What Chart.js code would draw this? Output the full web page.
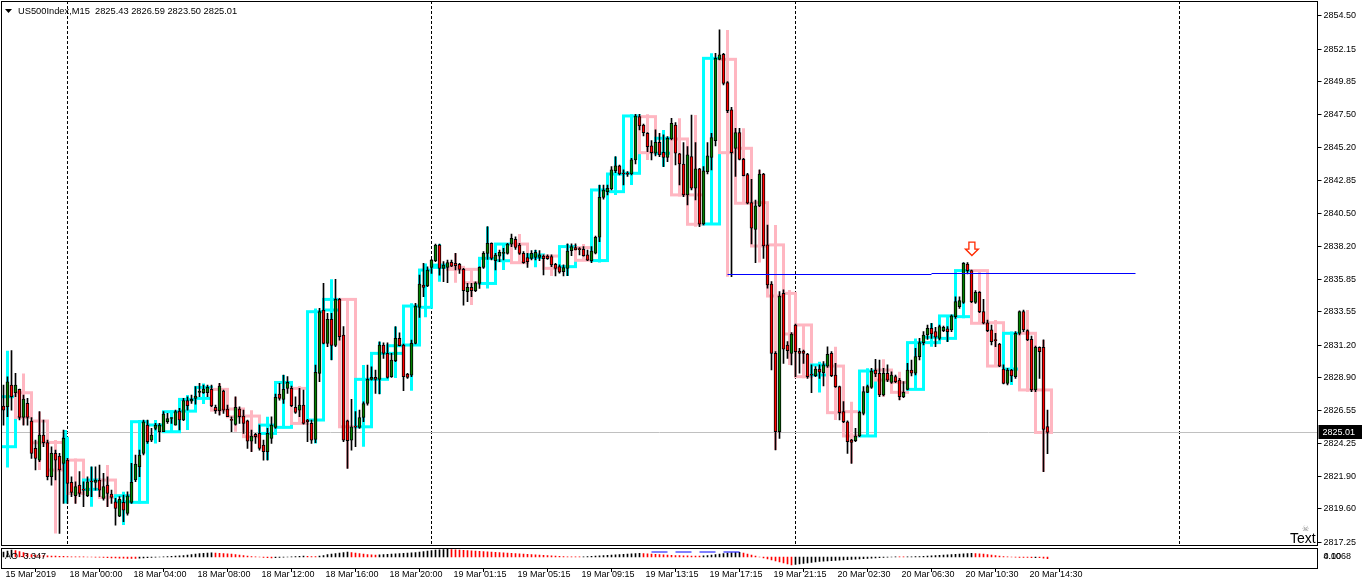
<!DOCTYPE html>
<html>
<head>
<meta charset="utf-8">
<title>US500Index,M15</title>
<script src="https://cdn.jsdelivr.net/npm/chart.js@4.4.1/dist/chart.umd.min.js"></script>
<style>
  html, body { margin: 0; padding: 0; background: #fff; }
  #wrap { position: relative; width: 1362px; height: 585px; overflow: hidden; }
  #mainChart { position: absolute; left: 0; top: 0; }
  #aoChart { position: absolute; left: 0; top: 546px; }
</style>
</head>
<body>
<div id="wrap">
  <canvas id="mainChart" width="1362" height="547"></canvas>
  <canvas id="aoChart" width="1362" height="39"></canvas>
</div>
<script>
// ---- data (M15 bars, first one is just left of the visible window) ----
const titleText = 'US500Index,M15  2825.43 2826.59 2823.50 2825.01'
const sessions = [['15 Mar', 19, 17], ['18 Mar', 0, 91], ['19 Mar', 0, 91], ['20 Mar', 0, 96], ['21 Mar', 0, 35]]

const barOpen = [
2824.00,2826.88,2826.83,2828.36,2827.82,2828.06,2826.07,2827.07,2825.82,2823.88,
2823.05,2824.82,2824.30,2821.87,2823.53,2823.34,2822.82,2823.05,2821.47,2820.53,
2821.28,2820.98,2820.53,2821.52,2821.47,2821.64,2820.34,2821.28,2820.65,2820.10,
2819.09,2820.06,2819.28,2820.06,2821.64,2822.58,2823.53,2825.53,2824.47,2825.30,
2825.06,2825.06,2825.77,2826.00,2825.53,2826.52,2825.89,2827.26,2827.23,2827.42,
2827.85,2827.82,2827.82,2828.06,2826.78,2826.55,2827.94,2826.67,2825.89,2825.58,
2826.67,2826.17,2825.84,2824.40,2824.87,2824.94,2824.12,2823.64,2824.59,2825.37,
2827.73,2827.35,2828.13,2828.13,2826.78,2826.59,2826.95,2825.89,2825.65,2824.52,
2829.19,2833.68,2831.32,2833.02,2831.17,2834.43,2831.91,2825.84,2824.47,2825.41,
2825.37,2826.07,2827.06,2828.77,2828.91,2828.77,2831.20,2830.61,2828.96,2830.09,
2831.67,2831.20,2829.14,2829.07,2831.32,2833.87,2835.45,2835.38,2836.70,2837.17,
2838.28,2836.63,2836.70,2837.05,2836.98,2836.91,2836.56,2834.97,2835.28,2835.05,
2835.56,2836.70,2837.69,2838.40,2837.17,2837.50,2837.69,2837.69,2838.35,2838.68,
2838.28,2837.69,2837.39,2837.34,2837.41,2837.41,2837.50,2837.50,2837.46,2836.92,
2836.75,2836.40,2836.63,2837.88,2838.10,2837.98,2837.98,2837.58,2837.18,2837.70,
2838.83,2841.66,2842.06,2842.25,2843.55,2843.88,2843.36,2843.31,2843.31,2844.31,
2847.37,2846.78,2846.19,2845.30,2844.78,2845.56,2844.85,2844.49,2845.79,2846.78,
2844.73,2844.02,2841.83,2844.54,2842.30,2843.67,2839.77,2843.48,2844.49,2845.67,
2851.43,2851.79,2849.78,2847.85,2845.13,2846.24,2844.35,2843.27,2841.28,2839.39,
2841.05,2843.31,2838.29,2835.52,2830.61,2825.06,2834.86,2831.20,2830.61,2832.62,
2830.78,2830.78,2830.56,2829.08,2829.03,2829.50,2829.24,2829.71,2830.61,2829.08,
2828.25,2826.48,2825.77,2824.47,2824.43,2824.76,2826.36,2827.85,2828.20,2829.43,
2829.20,2827.66,2829.20,2828.56,2828.96,2828.72,2827.54,2828.06,2829.43,2829.20,
2830.38,2831.37,2831.91,2832.38,2832.15,2831.67,2832.22,2832.34,2832.27,2833.21,
2833.92,2834.22,2836.94,2836.47,2834.22,2834.93,2833.56,2832.78,2832.27,2831.56,
2831.27,2829.50,2828.49,2829.43,2828.96,2832.03,2833.56,2832.22,2831.60,2828.02,
2831.04,2831.04,2825.43]
const barHigh = [
2827.00,2828.36,2828.95,2830.80,2829.19,2828.08,2827.66,2827.42,2826.07,2824.47,
2826.48,2825.89,2824.47,2824.00,2823.76,2823.53,2825.18,2823.17,2821.87,2821.52,
2822.23,2821.52,2821.87,2822.58,2822.58,2822.70,2822.11,2821.87,2820.93,2820.34,
2820.46,2820.57,2820.81,2822.82,2823.41,2823.76,2825.89,2825.89,2825.30,2825.65,
2825.65,2826.48,2826.36,2826.07,2826.59,2826.71,2827.42,2827.54,2827.66,2828.25,
2828.48,2828.36,2828.36,2828.36,2826.95,2828.48,2828.01,2826.95,2826.12,2827.54,
2826.83,2826.59,2825.89,2825.18,2824.94,2825.53,2824.47,2825.30,2826.12,2827.73,
2828.48,2829.07,2828.96,2828.29,2827.54,2828.13,2828.01,2825.93,2825.89,2829.78,
2833.79,2835.56,2833.44,2833.44,2835.85,2834.50,2832.50,2825.89,2827.35,2826.48,
2826.59,2827.18,2829.78,2829.66,2829.43,2831.43,2831.36,2831.36,2830.61,2832.50,
2832.07,2831.27,2829.19,2831.55,2834.15,2836.15,2836.98,2836.74,2837.26,2838.35,
2838.35,2837.10,2837.22,2837.22,2837.69,2836.98,2836.63,2835.56,2835.56,2835.68,
2836.74,2837.81,2839.58,2838.44,2837.69,2837.93,2838.04,2838.40,2839.06,2838.87,
2838.40,2837.81,2837.70,2837.88,2837.93,2837.88,2837.58,2837.58,2837.58,2836.99,
2836.87,2836.87,2838.36,2838.36,2838.36,2838.10,2838.17,2837.93,2838.17,2838.92,
2842.53,2842.53,2842.53,2843.83,2844.54,2843.95,2843.60,2843.48,2844.42,2847.54,
2847.54,2846.85,2846.24,2845.67,2846.43,2846.19,2846.08,2845.96,2847.26,2846.95,
2844.78,2845.53,2845.25,2847.49,2845.53,2843.71,2843.83,2845.53,2846.19,2851.86,
2853.51,2851.86,2849.85,2848.03,2846.55,2846.55,2844.42,2843.36,2842.94,2841.47,
2843.60,2843.36,2839.70,2835.69,2830.73,2834.98,2835.10,2831.44,2832.08,2832.69,
2830.97,2830.85,2830.61,2829.79,2829.67,2829.79,2830.02,2831.08,2830.73,2829.90,
2828.30,2827.19,2825.84,2824.52,2825.30,2826.53,2828.25,2828.37,2829.55,2830.19,
2830.14,2829.55,2829.79,2829.31,2829.08,2828.84,2828.61,2829.90,2830.14,2830.97,
2831.67,2832.15,2832.62,2832.74,2832.45,2832.62,2832.55,2832.50,2833.33,2834.62,
2834.62,2837.03,2837.03,2836.51,2835.05,2834.98,2834.44,2832.97,2832.62,2832.03,
2831.32,2829.79,2829.55,2829.48,2832.15,2833.63,2833.68,2832.27,2831.84,2831.13,
2831.08,2831.56,2826.59]
const barLow = [
2822.53,2825.53,2826.12,2826.59,2827.54,2825.89,2825.53,2825.53,2823.17,2822.35,
2822.94,2824.00,2821.64,2821.28,2821.64,2817.86,2819.98,2819.98,2820.46,2819.98,
2820.46,2819.75,2820.46,2820.46,2820.93,2820.46,2820.22,2819.75,2819.98,2818.45,
2819.04,2818.69,2819.16,2819.98,2821.52,2821.87,2823.41,2824.23,2824.35,2825.18,
2824.35,2825.06,2825.65,2825.65,2825.53,2825.18,2825.84,2826.59,2827.07,2827.02,
2827.54,2827.78,2827.54,2826.83,2826.36,2826.24,2826.36,2826.12,2825.06,2825.53,
2825.65,2824.94,2823.88,2823.64,2824.23,2823.76,2823.05,2823.05,2824.23,2825.30,
2827.30,2827.06,2827.77,2826.83,2826.36,2826.12,2825.60,2824.35,2824.23,2824.28,
2828.60,2831.27,2831.08,2830.14,2831.08,2831.55,2824.35,2822.46,2823.76,2824.00,
2825.30,2825.77,2826.95,2828.72,2827.77,2827.73,2830.25,2828.86,2828.91,2830.02,
2831.13,2827.96,2828.84,2828.96,2831.27,2833.16,2834.62,2835.33,2836.27,2837.10,
2836.15,2835.68,2835.61,2836.74,2836.51,2836.27,2834.03,2834.27,2834.62,2834.97,
2835.21,2836.63,2837.26,2837.22,2836.51,2837.10,2837.22,2837.64,2838.16,2837.97,
2837.62,2836.98,2836.70,2837.22,2837.22,2837.18,2836.16,2837.27,2836.75,2836.09,
2836.28,2836.09,2836.11,2837.53,2837.93,2837.58,2837.50,2837.18,2837.04,2837.65,
2838.52,2841.52,2841.83,2842.18,2843.41,2843.24,2842.53,2843.13,2843.24,2844.02,
2846.43,2846.00,2844.90,2844.31,2844.59,2844.54,2843.83,2844.19,2845.72,2843.95,
2842.53,2841.71,2841.12,2842.18,2841.47,2839.58,2839.70,2843.31,2843.60,2845.30,
2851.39,2849.62,2847.66,2836.04,2843.13,2844.31,2843.17,2841.19,2838.36,2837.04,
2841.00,2837.34,2835.22,2829.43,2823.77,2824.59,2829.90,2830.26,2829.79,2828.96,
2829.20,2829.90,2828.84,2827.83,2828.96,2828.84,2828.30,2829.62,2828.96,2828.20,
2825.89,2825.70,2823.53,2822.82,2824.36,2824.71,2826.25,2827.83,2828.13,2828.96,
2827.54,2827.59,2828.61,2828.49,2828.53,2827.31,2827.47,2828.02,2829.01,2829.08,
2830.14,2831.20,2831.60,2831.67,2831.08,2831.56,2832.15,2831.44,2832.15,2833.09,
2833.80,2834.15,2836.23,2834.20,2834.15,2833.49,2832.69,2832.15,2831.20,2831.08,
2829.67,2828.44,2828.37,2828.61,2828.84,2831.91,2832.15,2831.51,2827.90,2827.90,
2828.84,2822.23,2823.50]
const barClose = [
2826.88,2826.59,2828.60,2827.54,2828.36,2826.07,2827.37,2826.07,2823.53,2823.17,
2824.82,2824.28,2821.87,2823.53,2823.05,2822.35,2824.59,2821.40,2820.76,2821.17,
2820.69,2820.93,2821.52,2821.50,2821.64,2820.93,2821.17,2820.69,2820.41,2819.63,
2820.27,2819.51,2820.53,2821.47,2822.77,2823.41,2825.77,2824.35,2824.82,2825.53,
2825.53,2826.31,2826.00,2826.00,2826.48,2825.89,2827.26,2826.90,2827.35,2827.59,
2827.85,2828.08,2828.20,2826.88,2826.55,2828.29,2826.59,2826.12,2825.87,2826.78,
2826.12,2825.65,2824.40,2824.75,2824.71,2823.88,2823.64,2824.94,2825.53,2827.49,
2827.42,2828.06,2828.55,2826.90,2826.43,2826.95,2825.65,2825.77,2824.47,2829.26,
2833.56,2831.32,2833.02,2831.17,2834.43,2831.79,2824.47,2824.42,2825.41,2825.39,
2826.07,2827.06,2828.77,2828.91,2828.77,2831.20,2830.61,2828.91,2830.14,2831.67,
2831.15,2828.96,2828.91,2831.32,2833.96,2835.52,2835.28,2836.51,2837.22,2838.28,
2836.63,2836.86,2837.03,2836.79,2836.82,2836.56,2835.05,2835.28,2835.05,2835.61,
2836.70,2837.69,2838.40,2837.34,2837.57,2837.76,2837.76,2838.35,2838.75,2838.11,
2837.69,2837.03,2837.11,2837.70,2837.77,2837.58,2837.32,2837.32,2836.87,2836.63,
2836.35,2836.68,2837.86,2838.17,2837.93,2837.96,2837.53,2837.20,2837.86,2838.83,
2841.66,2842.18,2842.30,2843.60,2843.88,2843.31,2843.31,2843.29,2844.31,2847.42,
2846.71,2846.24,2845.25,2844.82,2845.56,2844.66,2844.49,2845.84,2846.90,2844.78,
2844.02,2841.83,2844.66,2842.30,2843.67,2839.75,2843.53,2844.59,2845.89,2851.50,
2851.74,2849.73,2847.80,2844.82,2846.24,2844.35,2843.20,2841.24,2839.47,2841.05,
2843.31,2838.21,2835.45,2830.61,2825.06,2834.67,2830.90,2830.80,2831.98,2830.73,
2830.61,2830.61,2828.96,2829.06,2829.50,2829.27,2829.79,2830.54,2829.03,2828.25,
2826.41,2825.77,2824.36,2824.31,2824.76,2826.43,2827.90,2828.25,2829.36,2829.15,
2827.66,2829.20,2828.72,2829.08,2828.61,2827.54,2827.85,2829.43,2829.20,2830.38,
2831.37,2831.91,2832.38,2831.98,2831.75,2832.50,2832.45,2832.15,2833.26,2834.27,
2834.34,2836.99,2836.47,2834.27,2834.93,2833.56,2832.74,2832.22,2831.44,2831.51,
2829.71,2828.49,2829.43,2829.01,2832.03,2833.56,2832.27,2831.56,2828.02,2831.04,
2830.73,2825.23,2825.01]

// Awesome Oscillator readings, one per bar (same indexing as above)
const aoValues = [
9,10,12,14,13,11,9,7,5,
4,3.5,3,2.5,2,2,1.5,1.5,1,
0.5,0.3,0.2,0.1,0,0,-0.2,-0.4,-0.8,
-1.5,-2,-2,-2.5,-2.5,-3,-3,-3,-2.5,-2,
-1.5,-1,-0.5,0,0.5,1,1.5,2,2.5,3,4,5,6,7,7.5,8,8.5,
8,7.5,7,6.5,6,5,4,3,2,1,0.5,0,
-1,-1.5,-2,-1.5,-1,-0.5,0,0.5,1,1.5,2,1.5,1,1,2,
3,5,6,7,8,9,10,9,8,7,6,5,4.5,4,
4.5,5,5.5,6,6.5,7,7.5,8,8.5,9,10,11,12,13,14,14.5,15,15.5,
15,14.5,14,13.5,13,12.5,12,11.5,11,10.5,10,9.5,9,8.5,8,7.5,7,6.5,6,5.5,5,4.5,4,3.5,3,2.5,
2,1.5,1,0.5,0.3,0.2,0.1,
0.5,1,1.5,2,2.5,3,3.5,4,4.5,5,5.5,6,6.5,7,7.5,
7,6.5,6,5.5,5,4.5,4,3.5,3,3,2.5,2.5,2,2,2,
2.5,3,4,5,6,7,8,8.5,9,9.5,
8,6,4,2,0,-2,-4,-6,-8,-10,-12,-14,-16,
-15,-14,-13,-12,-11,-10,-9,-8.5,-8,-7.5,-7,-6.5,-6,-5.5,-5,-4.5,-4,-3.5,-3,-2.5,-2,-1.5,
-1,-0.5,0,0.3,0.3,0.2,0.3,0.5,0.8,
1,1.5,2,2.5,3,3.5,4,4.5,5,5.5,6,6.5,7,7.5,
7,6.5,6,5,4,3,2,1,
0.5,0,-0.5,-1,
-1,-1,-1.2,-1.1,-1.2,-2.5,-3.347]
// short blue level segments in the sub window (bar index range, level)
const subLineFrom = [163, 169, 175, 181]
const subLineTo = [167, 173, 179, 185]
const subLineLevel = [10, 10, 10, 10]

const priceTicks = ['2854.50','2852.15','2849.85','2847.50','2845.20','2842.85','2840.50','2838.20','2835.85',
  '2833.55','2831.20','2828.90','2826.55','2824.25','2821.90','2819.60','2817.25']
const timeTicks = ['15 Mar 2019','18 Mar 00:00','18 Mar 04:00','18 Mar 08:00','18 Mar 12:00','18 Mar 16:00',
  '18 Mar 20:00','19 Mar 01:15','19 Mar 05:15','19 Mar 09:15','19 Mar 13:15','19 Mar 17:15','19 Mar 21:15',
  '20 Mar 02:30','20 Mar 06:30','20 Mar 10:30','20 Mar 14:30']
const bidPrice = 2825.01
// horizontal level (bar index range, price)
const levelFrom = [182, 233]
const levelTo = [233, 284]
const levelPrice = [2836.20, 2836.27]
const signalBar = 243.1
const signalPrice = 2838.49
const aoLabel = 'AO -3.347'
const aoScaleLabels = ['0.00', '4.1068']

// ---- derived helpers ----
const times = []
sessions.forEach(([day, h0, count]) => {
  for (let i = 0; i < count; i++) {
    const m = h0 * 60 + i * 15
    times.push(day + ' ' + String(Math.floor(m / 60)).padStart(2, '0') + ':' + String(m % 60).padStart(2, '0'))
  }
})
const daySeparators = []
for (let i = 1; i < times.length; i++) {
  if (times[i].slice(0, 6) !== times[i - 1].slice(0, 6)) daySeparators.push(i)
}
// hourly candles built from the M15 bars
const hourGroups = []
for (let i = 0; i < barOpen.length; i++) {
  const key = times[i].slice(0, -3)
  let g = hourGroups[hourGroups.length - 1]
  if (!g || g.key !== key) {
    g = { key: key, first: i, last: i, open: barOpen[i], high: barHigh[i], low: barLow[i], close: barClose[i] }
    hourGroups.push(g)
  }
  g.last = i
  g.high = Math.max(g.high, barHigh[i])
  g.low = Math.min(g.low, barLow[i])
  g.close = barClose[i]
}
hourGroups.forEach((g, k) => {
  g.next = k < hourGroups.length - 1 ? hourGroups[k + 1].first : g.first + 4
})

const FONT = "'Liberation Sans', Arial, sans-serif"
const LEFT = 1.5, AXIS_W = 44.5

const overlay = {
  id: 'overlay',
  beforeDatasetsDraw(chart) {
    const { ctx, chartArea: a, scales: { x, y } } = chart
    ctx.save()
    ctx.beginPath(); ctx.rect(a.left, a.top, a.right - a.left, a.bottom - a.top); ctx.clip()
    // period separators
    ctx.strokeStyle = '#000'; ctx.lineWidth = 1; ctx.setLineDash([3, 2])
    daySeparators.forEach(i => {
      const px = Math.floor(x.getPixelForValue(i)) + 0.5
      ctx.beginPath(); ctx.moveTo(px, a.top); ctx.lineTo(px, a.bottom); ctx.stroke()
    })
    ctx.setLineDash([])
    // bid line
    const by = Math.round(y.getPixelForValue(bidPrice)) + 0.5
    ctx.strokeStyle = '#c0c0c0'
    ctx.beginPath(); ctx.moveTo(a.left, by); ctx.lineTo(a.right, by); ctx.stroke()
    // hourly boxes
    ctx.lineWidth = 3
    hourGroups.forEach(g => {
      const x1 = x.getPixelForValue(g.first), x2 = x.getPixelForValue(g.next)
      const yo = y.getPixelForValue(g.open), yc = y.getPixelForValue(g.close)
      ctx.strokeStyle = g.close >= g.open ? '#00ffff' : '#ffb6c1'
      ctx.strokeRect(x1, Math.min(yo, yc), x2 - x1, Math.abs(yo - yc))
      const xm = (x1 + x2) / 2
      ctx.beginPath(); ctx.moveTo(xm, y.getPixelForValue(g.high)); ctx.lineTo(xm, y.getPixelForValue(g.low)); ctx.stroke()
    })
    ctx.restore()
  },
  afterDatasetsDraw(chart) {
    const { ctx, scales: { x, y } } = chart
    ctx.save()
    ctx.strokeStyle = '#0000ff'; ctx.lineWidth = 1
    levelPrice.forEach((p, k) => {
      const py = Math.round(y.getPixelForValue(p)) + 0.5
      ctx.beginPath(); ctx.moveTo(x.getPixelForValue(levelFrom[k]), py); ctx.lineTo(x.getPixelForValue(levelTo[k]), py); ctx.stroke()
    })
    // sell arrow
    const ax = x.getPixelForValue(signalBar), ay = y.getPixelForValue(signalPrice)
    ctx.beginPath()
    ctx.moveTo(ax - 3, ay); ctx.lineTo(ax + 3, ay); ctx.lineTo(ax + 3, ay + 7); ctx.lineTo(ax + 6.5, ay + 7)
    ctx.lineTo(ax, ay + 13.5); ctx.lineTo(ax - 6.5, ay + 7); ctx.lineTo(ax - 3, ay + 7); ctx.closePath()
    ctx.fillStyle = '#fff'; ctx.fill()
    ctx.strokeStyle = '#ff2a00'; ctx.lineWidth = 1.3; ctx.stroke()
    ctx.restore()
  },
  afterDraw(chart) {
    const { ctx, chartArea: a, scales: { y } } = chart
    ctx.save()
    ctx.strokeStyle = '#000'; ctx.lineWidth = 1
    ctx.strokeRect(Math.floor(a.left) + 0.5, Math.floor(a.top) + 0.5, Math.round(a.right - a.left), Math.round(a.bottom - a.top))
    // title
    ctx.fillStyle = '#000'
    ctx.beginPath(); ctx.moveTo(5, 9); ctx.lineTo(12, 9); ctx.lineTo(8.5, 13); ctx.closePath(); ctx.fill()
    ctx.font = '9.3px ' + FONT; ctx.textBaseline = 'middle'; ctx.textAlign = 'left'
    ctx.fillText(titleText, 18, 11.5)
    // bid label
    const by = Math.round(y.getPixelForValue(bidPrice))
    ctx.fillRect(a.right + 1, by - 7, 44, 14)
    ctx.fillStyle = '#fff'
    ctx.font = '9px ' + FONT
    ctx.fillText(bidPrice.toFixed(2), a.right + 5, by + 0.5)
    // text object
    ctx.fillStyle = '#000'
    ctx.font = '14px ' + FONT; ctx.textBaseline = 'alphabetic'
    ctx.fillText('Text', 1290, 543)
    ctx.fillStyle = '#888'; ctx.font = '8px DejaVu Sans'
    ctx.fillText('\u2620', 1302, 531)
    ctx.restore()
  }
}

const bodyData = barOpen.map((o, i) => [Math.min(o, barClose[i]), Math.max(o, barClose[i])])
const wickData = barLow.map((l, i) => [l, barHigh[i]])
const bodyColors = barOpen.map((o, i) => barClose[i] >= o ? '#008000' : '#ff0000')

new Chart(document.getElementById('mainChart'), {
  type: 'bar',
  data: {
    labels: times,
    datasets: [
      // bodies first so they are painted over the wicks
      { data: bodyData, backgroundColor: bodyColors, borderColor: '#000', borderWidth: 1, borderSkipped: false,
        barThickness: 3, grouped: false, minBarLength: 1, order: 0 },
      { data: wickData, backgroundColor: '#000', barThickness: 1, grouped: false, borderWidth: 0, order: 1 }
    ]
  },
  options: {
    responsive: false, animation: false, events: [],
    layout: { padding: { left: LEFT, top: 1, right: 0, bottom: 2 } },
    plugins: { legend: { display: false }, tooltip: { enabled: false } },
    scales: {
      x: { type: 'category', min: 1, max: times.length - 1, display: false, offset: true },
      y: {
        position: 'right', min: 2817.04, max: 2855.56,
        afterFit: s => { s.width = AXIS_W; s.paddingTop = 0; s.paddingBottom = 0 },
        afterBuildTicks: s => { s.ticks = priceTicks.map(v => ({ value: parseFloat(v) })) },
        ticks: { callback: (v, i) => priceTicks[i], color: '#000', font: { family: FONT, size: 9 }, padding: 2 },
        grid: { drawOnChartArea: false, tickLength: 4, color: '#000' },
        border: { display: true, color: '#000' }
      }
    }
  },
  plugins: [overlay]
})

// ---- AO sub window ----
const aoColors = aoValues.map((v, i) => (i > 0 && v > aoValues[i - 1]) ? '#000' : '#ff0000')
const subLineSets = subLineFrom.map((f, k) => ({
  type: 'line',
  data: [{ x: times[f], y: subLineLevel[k] }, { x: times[subLineTo[k]], y: subLineLevel[k] }],
  borderColor: '#0000ff', borderWidth: 1, pointRadius: 0, order: 0
}))
const subOverlay = {
  id: 'subOverlay',
  afterDraw(chart) {
    const { ctx, chartArea: a } = chart
    ctx.save()
    ctx.strokeStyle = '#000'; ctx.lineWidth = 1
    ctx.strokeRect(Math.floor(a.left) + 0.5, Math.floor(a.top) + 0.5, Math.round(a.right - a.left), Math.round(a.bottom - a.top))
    ctx.fillStyle = '#000'; ctx.font = '9px ' + FONT; ctx.textBaseline = 'middle'
    ctx.fillText(aoLabel, 5, 11)
    aoScaleLabels.forEach(t => ctx.fillText(t, a.right + 6, 10.5))
    ctx.restore()
  }
}
new Chart(document.getElementById('aoChart'), {
  type: 'bar',
  data: {
    labels: times,
    datasets: [
      ...subLineSets,
      { data: aoValues, backgroundColor: aoColors, barThickness: 1, grouped: false, borderWidth: 0, order: 1 }
    ]
  },
  options: {
    responsive: false, animation: false, events: [],
    layout: { padding: { left: LEFT, top: 2, right: 0, bottom: 1 } },
    plugins: { legend: { display: false }, tooltip: { enabled: false } },
    scales: {
      x: {
        type: 'category', min: 1, max: times.length - 1, offset: true,
        afterFit: s => { s.height = 16; s.paddingLeft = 0; s.paddingRight = 0 },
        afterBuildTicks: s => { s.ticks = timeTicks.map((t, j) => ({ value: 1 + 16 * j })) },
        ticks: { autoSkip: false, maxRotation: 0, align: 'start', padding: -3, labelOffset: 2, color: '#000',
          font: { family: FONT, size: 9 }, callback: (v, i) => timeTicks[i] },
        grid: { drawOnChartArea: false, tickLength: 4, color: '#000' },
        border: { display: false }
      },
      y: {
        position: 'right', min: -22, max: 18,
        afterFit: s => { s.width = AXIS_W; s.paddingTop = 0; s.paddingBottom = 0 },
        ticks: { display: false },
        grid: { display: false },
        border: { display: false }
      }
    }
  },
  plugins: [subOverlay]
})
</script>
</body>
</html>
